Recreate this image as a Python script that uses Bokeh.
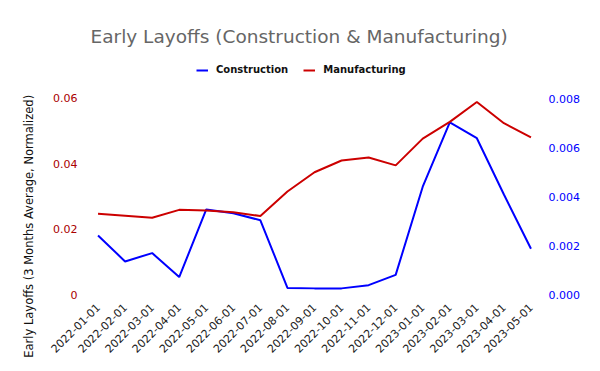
import math
from bokeh.plotting import figure
from bokeh.models import (Range1d, LinearAxis, FixedTicker, CustomJSTickFormatter,
                          NumeralTickFormatter, Legend, LegendItem)
from bokeh.embed import file_html
from bokeh.resources import INLINE

dates = ["2022-01-01", "2022-02-01", "2022-03-01", "2022-04-01", "2022-05-01",
         "2022-06-01", "2022-07-01", "2022-08-01", "2022-09-01", "2022-10-01",
         "2022-11-01", "2022-12-01", "2023-01-01", "2023-02-01", "2023-03-01",
         "2023-04-01", "2023-05-01"]
construction = [0.00241, 0.00135, 0.00169, 0.00071, 0.00347, 0.00332, 0.00303,
                0.00027, 0.00025, 0.00025, 0.00038, 0.00080, 0.00440, 0.00703,
                0.00638, 0.00408, 0.00187]
manufacturing = [0.0247, 0.0241, 0.0235, 0.0259, 0.0257, 0.0252, 0.0240,
                 0.0315, 0.0374, 0.0410, 0.0419, 0.0395, 0.0477, 0.0528,
                 0.0589, 0.0524, 0.0481]
left_ticks = [0, 0.02, 0.04, 0.06]
right_ticks = [0.0, 0.002, 0.004, 0.006, 0.008]

FONT = "DejaVu Sans"
RED = "#cc0000"
BLUE = "#0000ff"

xs = list(range(len(dates)))

p = figure(width=591, height=362, output_backend="svg", toolbar_location=None,
           x_range=Range1d(-0.5, len(dates) - 0.5), y_range=Range1d(0, 0.0719),
           min_border_left=84, min_border_right=47, min_border_top=59,
           min_border_bottom=68)
p.extra_y_ranges = {"right": Range1d(0, 0.009592)}
p.outline_line_color = None
p.xgrid.grid_line_color = None
p.ygrid.grid_line_color = None

p.title.text = "Early Layoffs (Construction & Manufacturing)"
p.title.align = "left"
p.title.offset = 6
p.title.text_font = FONT
p.title.text_font_size = "18.5px"
p.title.text_font_style = "normal"
p.title.text_color = "#666666"
p.title.standoff = 26

r1 = p.line(xs, construction, color=BLUE, line_width=2, y_range_name="right")
r2 = p.line(xs, manufacturing, color=RED, line_width=2)

xa = p.xaxis[0]
xa.ticker = FixedTicker(ticks=xs)
xa.major_label_overrides = {i: d for i, d in enumerate(dates)}
xa.major_label_orientation = math.pi / 4
xa.axis_line_color = None
xa.major_tick_line_color = None
xa.minor_tick_line_color = None
xa.major_tick_out = 0
xa.major_tick_in = 0
xa.major_label_text_font = FONT
xa.major_label_text_font_size = "11px"
xa.major_label_text_color = "#222222"
xa.major_label_standoff = 11

ya = p.yaxis[0]
ya.ticker = FixedTicker(ticks=left_ticks)
ya.formatter = CustomJSTickFormatter(code="return tick == 0 ? '0' : tick.toFixed(2);")
ya.axis_line_color = None
ya.major_tick_line_color = None
ya.minor_tick_line_color = None
ya.major_tick_out = 0
ya.major_tick_in = 0
ya.major_label_text_font = FONT
ya.major_label_text_font_size = "11px"
ya.major_label_text_color = "#aa0000"
ya.major_label_standoff = 7
ya.axis_label = "Early  Layoffs (3 Months Average, Normalized)" + "\u00a0" * 26
ya.axis_label_text_font = FONT
ya.axis_label_text_font_size = "11.5px"
ya.axis_label_text_font_style = "normal"
ya.axis_label_text_color = "#111111"
ya.axis_label_standoff = 14

ra = LinearAxis(y_range_name="right", ticker=FixedTicker(ticks=right_ticks),
                formatter=NumeralTickFormatter(format="0.000"))
ra.axis_line_color = None
ra.major_tick_line_color = None
ra.minor_tick_line_color = None
ra.major_tick_out = 0
ra.major_tick_in = 0
ra.major_label_text_font = FONT
ra.major_label_text_font_size = "11px"
ra.major_label_text_color = BLUE
ra.major_label_standoff = 4
p.add_layout(ra, "right")

legend = Legend(items=[LegendItem(label="Construction", renderers=[r1]),
                       LegendItem(label="Manufacturing", renderers=[r2])],
                orientation="horizontal", location=(112, 219),
                label_text_font=FONT, label_text_font_size="10px",
                label_text_font_style="bold", label_text_color="#111111",
                border_line_color=None, background_fill_alpha=0,
                glyph_width=12, glyph_height=10, label_standoff=8,
                spacing=15, padding=4, margin=0)
p.add_layout(legend)

open("out.html", "w").write(file_html(p, INLINE))
